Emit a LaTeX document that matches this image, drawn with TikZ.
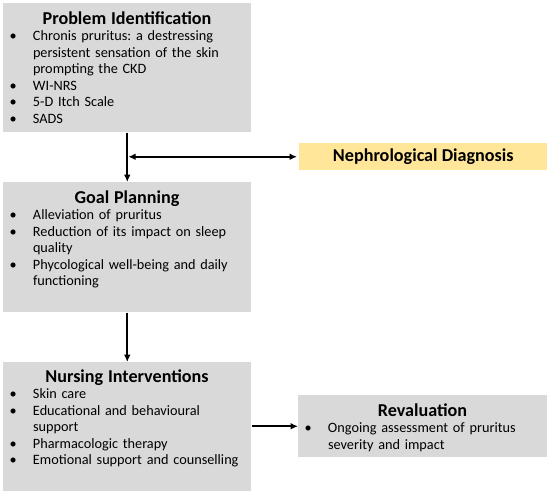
\documentclass[tikz,border=0pt]{standalone}
\usepackage{fontspec}
\setmainfont{Carlito}
\usepackage{tikz}
\usetikzlibrary{arrows.meta}
\definecolor{boxgray}{HTML}{D9D9D9}
\definecolor{boxgold}{HTML}{FFE699}
\newcommand\ttl{\fontsize{13.6}{16}\selectfont\bfseries}
\newcommand\bodyfont{\fontsize{10.7}{12.4}\selectfont\frenchspacing}
\newcommand\bitem{\par\noindent\hangindent=22.5pt\hangafter=1\makebox[22.5pt][l]{\hspace{5pt}\textbullet}}
\hyphenpenalty=10000
\tikzset{
  stage/.style={fill=boxgray, inner sep=0pt, anchor=north west},
  stagetext/.style={anchor=base, inner sep=0pt, align=left, text width=#1, font=\bodyfont},
  flow/.style={line width=1.5pt, -{Latex[length=5.5pt,width=5pt]}},
  flowboth/.style={line width=1.5pt, {Latex[length=5.5pt,width=5pt]}-{Latex[length=5.5pt,width=5pt]}}
}

\begin{document}
\begin{tikzpicture}[x=0.75pt,y=-0.75pt]
\useasboundingbox (0,0) rectangle (550,494);
\node[stage, minimum width=186pt, minimum height=96.75pt] (pi) at (3,3) {};
\node[stage, minimum width=186pt, minimum height=97.5pt] (gp) at (3,182) {};
\node[stage, minimum width=186pt, minimum height=96.75pt] (ni) at (3,362) {};
\node[stage, fill=boxgold, minimum width=186pt, minimum height=20.25pt,
  font=\ttl] (nd) at (299,143) {Nephrological Diagnosis};
\node[stage, minimum width=186.75pt, minimum height=46.5pt] (rv) at (298,395) {};

\node[stagetext=186pt] (pitx) at (127,24) {{\centering\ttl Problem Identification\par}
  \bitem Chronis pruritus: a destressing\newline persistent sensation of the skin\newline prompting the CKD
  \bitem WI-NRS
  \bitem 5-D Itch Scale
  \bitem SADS\par};
\node[stagetext=186pt] (gptx) at (127,203) {{\centering\ttl Goal Planning\par}
  \bitem Alleviation of pruritus
  \bitem Reduction of its impact on sleep\newline quality
  \bitem Phycological well-being and daily\newline functioning\par};
\node[stagetext=186pt] (nitx) at (127,382) {{\centering\ttl Nursing Interventions\par}
  \bitem Skin care
  \bitem Educational and behavioural\newline support
  \bitem Pharmacologic therapy
  \bitem Emotional support and counselling\par};
\node[stagetext=186.75pt] (rvtx) at (422.5,416) {{\centering\ttl Revaluation\par}
  \bitem Ongoing assessment of pruritus\newline severity and impact\par};

\draw[flow] (pi.south) -- (gp.north);
\draw[flowboth, shorten <=0.75pt, shorten >=1.5pt] (pi.south |- nd.west) -- (nd.west);
\draw[flow] (gp.south) -- (ni.north);
\draw[flow] (ni.east |- rv.west) -- (rv.west);
\end{tikzpicture}
\end{document}
